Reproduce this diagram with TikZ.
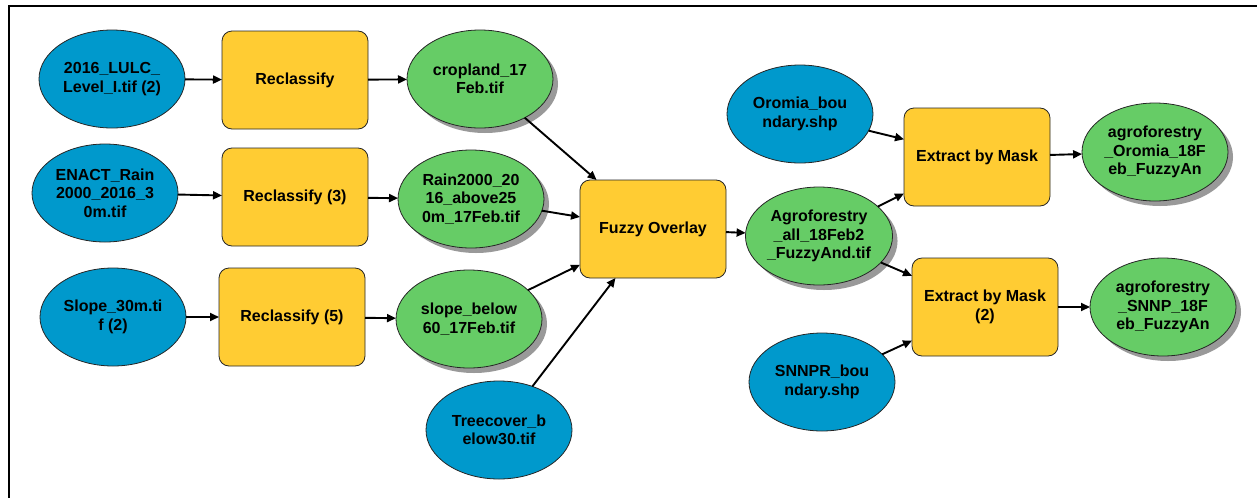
\documentclass[tikz,border=0pt]{standalone}
\usepackage{fontspec}
\setmainfont{Liberation Sans}
\usetikzlibrary{arrows.meta,shadows,shapes.geometric}
\definecolor{inblue}{RGB}{0,153,204}
\definecolor{toolyel}{RGB}{255,204,51}
\definecolor{outgreen}{RGB}{102,204,102}
\tikzset{
  base/.style={draw=black!85, line width=0.8pt, inner sep=0pt, outer sep=0pt,
    align=center, font=\fontsize{16}{18.4}\selectfont\bfseries, text=black},
  indata/.style={base, ellipse, fill=inblue, minimum width=146pt, minimum height=98pt},
  outdata/.style={base, ellipse, fill=outgreen, minimum width=146pt, minimum height=98pt,
    drop shadow={shadow xshift=5pt, shadow yshift=-5pt, fill=black!40, opacity=1}},
  tool/.style={base, rectangle, rounded corners=10pt, fill=toolyel, minimum width=146pt, minimum height=98pt},
  conn/.style={line width=1.9pt, -{Triangle[length=9pt,width=8pt]}}
}
\begin{document}
\begin{tikzpicture}[x=1pt,y=-1pt]
\useasboundingbox (0,0) rectangle (1257,498);
\draw[line width=2pt] (1257,6) -- (9,6) -- (9,498);

\node[indata] (in1) at (112,79) {2016\_LULC\_\\Level\_I.tif (2)};
\node[tool] (rc1) at (295,80) {Reclassify};
\node[outdata] (cr) at (480,79) {cropland\_17\\Feb.tif};

\node[indata] (in2) at (105,193) {ENACT\_Rain\\2000\_2016\_3\\0m.tif};
\node[tool] (rc3) at (295,197) {Reclassify (3)};
\node[outdata] (rain) at (471,199) {Rain2000\_20\\16\_above25\\0m\_17Feb.tif};

\node[indata] (in3) at (113,317) {Slope\_30m.ti\\f (2)};
\node[tool] (rc5) at (292,317) {Reclassify (5)};
\node[outdata] (slo) at (469,319) {slope\_below\\60\_17Feb.tif};

\node[indata] (tree) at (499,430) {Treecover\_b\\elow30.tif};
\node[tool] (fuz) at (653,229) {Fuzzy Overlay};
\node[outdata] (agro) at (819,236) {Agroforestry\\\_all\_18Feb2\\\_FuzzyAnd.tif};

\node[indata] (oro) at (800,114) {Oromia\_bou\\ndary.shp};
\node[tool] (ebm) at (977,157) {Extract by Mask};
\node[outdata] (out1) at (1155,152) {agroforestry\\\_Oromia\_18F\\eb\_FuzzyAn};

\node[indata] (snn) at (822,382) {SNNPR\_bou\\ndary.shp};
\node[tool] (ebm2) at (985,307) {Extract by Mask\\(2)};
\node[outdata] (out2) at (1163,307) {agroforestry\\\_SNNP\_18F\\eb\_FuzzyAn};

\draw[conn] (in1) -- (rc1);
\draw[conn] (rc1) -- (cr);
\draw[conn] (in2) -- (rc3);
\draw[conn] (rc3) -- (rain);
\draw[conn] (in3) -- (rc5);
\draw[conn] (rc5) -- (slo);
\draw[conn] (cr) -- (fuz);
\draw[conn] (rain) -- (fuz);
\draw[conn] (slo) -- (fuz);
\draw[conn] (tree) -- (fuz);
\draw[conn] (fuz) -- (agro);
\draw[conn] (oro) -- (ebm);
\draw[conn] (agro) -- (ebm);
\draw[conn] (agro) -- (ebm2);
\draw[conn] (snn) -- (ebm2);
\draw[conn] (ebm) -- (out1);
\draw[conn] (ebm2) -- (out2);
\end{tikzpicture}
\end{document}
